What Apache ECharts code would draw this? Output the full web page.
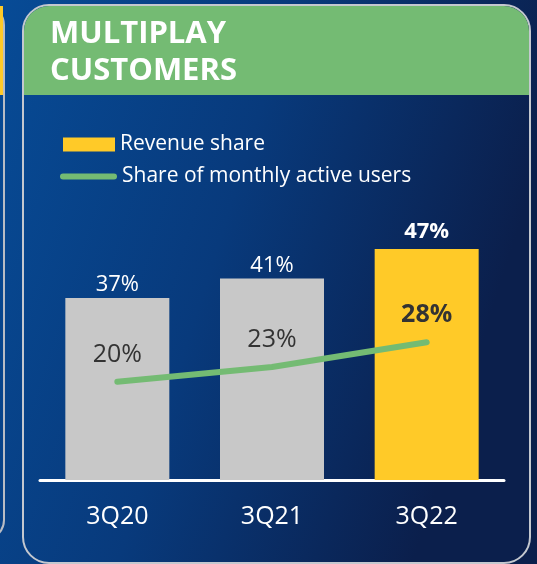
<!DOCTYPE html>
<html>
<head>
<meta charset="utf-8">
<script src="https://cdn.jsdelivr.net/npm/echarts@6/dist/echarts.min.js"></script>
<style>
  html, body { margin: 0; padding: 0; }
  #chart { width: 537px; height: 564px; }
</style>
</head>
<body>
<div id="chart"></div>
<script>
// data
const categories = ["3Q20", "3Q21", "3Q22"];
const revenueShare = [37, 41, 47];
const mauShare = [20, 23, 28];
const seriesNames = ["Revenue share", "Share of monthly active users"];
const titleLines = ["MULTIPLAY", "CUSTOMERS"];

const GREEN = "#74bb73";
const YELLOW = "#ffca28";
const GREY = "#c8c8c8";
const FONT = "Open Sans";

const chart = echarts.init(document.getElementById("chart"));

const option = {
  textStyle: { fontFamily: FONT },
  animation: false,
  graphic: [
    // 背景
    {
      type: "rect", z: -10, silent: true,
      shape: { x: 0, y: 0, width: 537, height: 564 },
      style: {
        fill: new echarts.graphic.LinearGradient(0, 0, 1, 0.3, [
          { offset: 0, color: "#074b96" },
          { offset: 0.5, color: "#083a7c" },
          { offset: 1, color: "#0b1f4c" },
        ]),
      },
    },
    // 左边的面板
    {
      type: "rect", z: -9, silent: true,
      shape: { x: -500, y: 5, width: 504, height: 535, r: 20 },
      style: { fill: "transparent", stroke: "#b8bcc4", lineWidth: 2 },
    },
    {
      type: "rect", z: -8, silent: true,
      shape: { x: -500, y: 6, width: 503, height: 89 },
      style: { fill: YELLOW },
    },
    // 主面板
    {
      type: "rect", z: -9, silent: true,
      shape: { x: 23, y: 5, width: 507, height: 558, r: 26 },
      style: { fill: "transparent", stroke: "#c4c8cf", lineWidth: 2 },
    },
    {
      type: "rect", z: -8, silent: true,
      shape: { x: 24, y: 6, width: 505, height: 89, r: [25, 25, 0, 0] },
      style: { fill: GREEN },
    },
    {
      type: "text", z: 5, silent: true,
      left: 50, top: 16,
      style: {
        text: titleLines.join("\n"),
        fill: "#fff",
        font: "bold 31px 'Open Sans'",
        lineHeight: 37,
      },
    },
  ],
  legend: [
    {
      data: [{ name: seriesNames[0], icon: "rect" }],
      left: 63, top: 134, padding: 0,
      itemWidth: 52, itemHeight: 14,
      textStyle: { color: "#fff", fontSize: 21, fontFamily: FONT },
      selectedMode: false,
    },
    {
      data: [{ name: seriesNames[1], icon: "path://M3,0 H54 A3,3 0 0 1 54,6 H3 A3,3 0 0 1 3,0 Z" }],
      left: 60, top: 166, padding: 0,
      itemWidth: 57, itemHeight: 6,
      textStyle: { color: "#fff", fontSize: 21, fontFamily: FONT },
      selectedMode: false,
    },
  ],
  grid: { left: 40, right: 33, top: 185, bottom: 84 },
  xAxis: {
    type: "category",
    data: categories,
    axisLine: { lineStyle: { color: "#fff", width: 3 } },
    axisTick: { show: false },
    axisLabel: { color: "#fff", fontSize: 25, margin: 24, fontFamily: FONT },
  },
  yAxis: {
    type: "value", min: 0, max: 60,
    show: false,
    splitLine: { show: false },
  },
  series: [
    {
      name: seriesNames[0],
      type: "bar",
      barWidth: 104,
      itemStyle: { color: YELLOW },
      data: revenueShare.map((v, i) => ({
        value: v,
        itemStyle: { color: i === revenueShare.length - 1 ? YELLOW : GREY },
        label: i === revenueShare.length - 1 ? { fontWeight: "bold", distance: 6 } : {},
      })),
      label: {
        show: true, position: "top", distance: 2,
        color: "#fff", fontSize: 22, fontFamily: FONT,
        formatter: "{c}%",
      },
    },
    {
      name: seriesNames[1],
      type: "line",
      symbol: "circle", symbolSize: 1,
      itemStyle: { color: GREEN },
      lineStyle: { color: GREEN, width: 6, cap: "round" },
      data: mauShare.map((v, i) => ({
        value: v,
        label: i === mauShare.length - 1 ? { fontWeight: "bold" } : {},
      })),
      label: {
        show: true, position: "top", distance: 14,
        color: "#333", fontSize: 25, fontFamily: FONT,
        formatter: "{c}%",
      },
      z: 3,
    },
  ],
};

chart.setOption(option);
window.addEventListener("resize", () => chart.resize());
</script>
</body>
</html>
